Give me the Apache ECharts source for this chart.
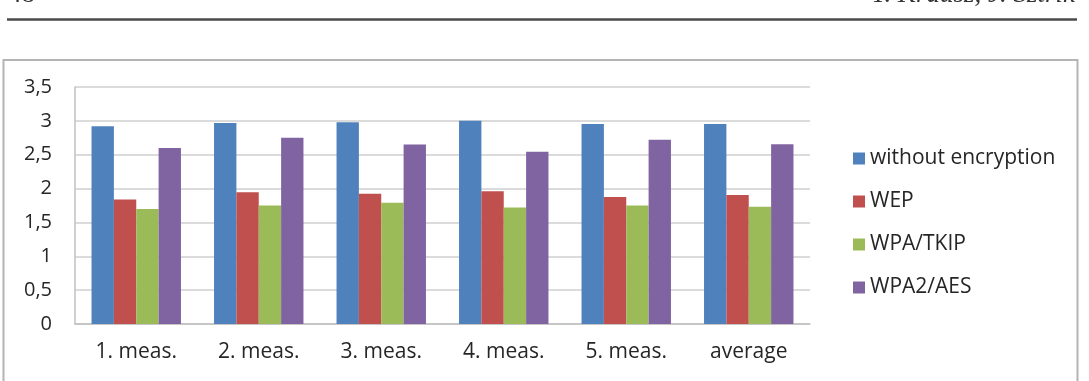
<!DOCTYPE html>
<html>
<head>
<meta charset="utf-8">
<script src="https://cdn.jsdelivr.net/npm/echarts@6/dist/echarts.min.js"></script>
<style>
  html, body { margin: 0; padding: 0; background: #fff; }
  #chart { width: 1089px; height: 381px; }
</style>
</head>
<body>
<div id="chart"></div>
<script>
var categories = ['1. meas.', '2. meas.', '3. meas.', '4. meas.', '5. meas.', 'average'];
var seriesNames = ['without encryption', 'WEP', 'WPA/TKIP', 'WPA2/AES'];
var noEncryption = [2.92, 2.97, 2.98, 3.0, 2.955, 2.955];
var wep = [1.84, 1.945, 1.925, 1.96, 1.875, 1.905];
var wpaTkip = [1.70, 1.75, 1.79, 1.72, 1.75, 1.73];
var wpa2Aes = [2.60, 2.75, 2.65, 2.545, 2.72, 2.655];
var colors = ['#4f81bd', '#c0504d', '#9bbb59', '#8064a2'];

var chartDom = document.getElementById('chart');
var myChart = echarts.init(chartDom);
var option;

function bar(name, data, color) {
  return {
    name: name,
    type: 'bar',
    data: data,
    barGap: '0%',
    barCategoryGap: '27%',
    itemStyle: { color: color },
    animation: false
  };
}

option = {
  animation: false,
  grid: { left: 75, right: 279, top: 87, bottom: 57 },
  legend: {
    orient: 'vertical',
    left: 848,
    top: 143,
    itemWidth: 12,
    itemHeight: 12,
    itemGap: 22,
    icon: 'rect',
    textStyle: { fontFamily: 'Open Sans', fontSize: 21, color: '#262626' },
    data: seriesNames
  },
  xAxis: {
    type: 'category',
    data: categories,
    axisTick: { show: false },
    axisLine: { lineStyle: { color: '#c0c0c0', width: 1.5 } },
    axisLabel: { margin: 18, fontFamily: 'Open Sans', fontSize: 21, color: '#262626' }
  },
  yAxis: {
    type: 'value',
    min: 0,
    max: 3.5,
    interval: 0.5,
    axisLine: { show: true, lineStyle: { color: '#c0c0c0', width: 1.5 } },
    axisTick: { show: false },
    splitLine: { lineStyle: { color: '#cfcfcf', width: 1.5 } },
    axisLabel: {
      margin: 23,
      fontFamily: 'Open Sans',
      fontSize: 20,
      color: '#262626',
      formatter: function (v) { return String(v).replace('.', ','); }
    }
  },
  series: [
    bar(seriesNames[0], noEncryption, colors[0]),
    bar(seriesNames[1], wep, colors[1]),
    bar(seriesNames[2], wpaTkip, colors[2]),
    bar(seriesNames[3], wpa2Aes, colors[3])
  ],
  graphic: [
    {
      type: 'rect',
      shape: { x: 3.5, y: 60, width: 1074, height: 340 },
      style: { fill: 'none', stroke: '#b4b4b4', lineWidth: 2 },
      silent: true
    },
    {
      type: 'line',
      shape: { x1: 7, y1: 19.5, x2: 1077, y2: 19.5 },
      style: { stroke: '#4a4a4a', lineWidth: 2.5 },
      silent: true
    },
    {
      type: 'text',
      x: 8,
      y: 8,
      style: {
        text: '48',
        font: '27px "Liberation Serif"',
        fill: '#333',
        verticalAlign: 'bottom'
      }
    },
    {
      type: 'text',
      x: 1075,
      y: 8,
      style: {
        text: 'T. Krausz, J. Sztrik',
        font: 'italic 27px "Liberation Serif"',
        fill: '#333',
        align: 'right',
        verticalAlign: 'bottom'
      }
    }
  ]
};

option && myChart.setOption(option);
</script>
</body>
</html>
